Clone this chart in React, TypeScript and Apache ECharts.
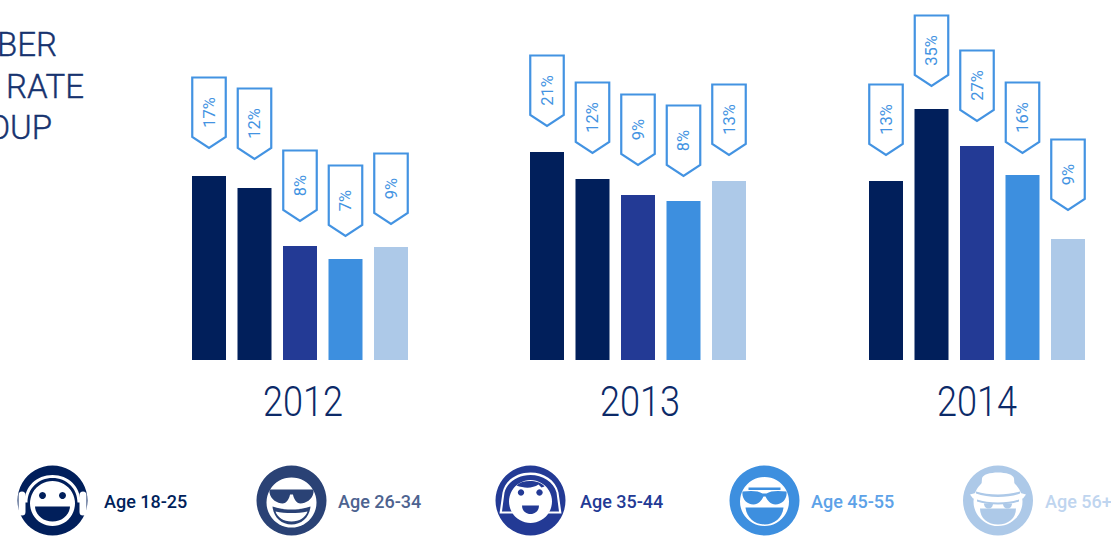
import React, { useEffect, useRef } from "react";
import * as echarts from "echarts";

const years = ["2012", "2013", "2014"];
const ageGroups = ["Age 18-25", "Age 26-34", "Age 35-44", "Age 45-55", "Age 56+"];
const barColors = ["#011f5b", "#011f5b", "#233a95", "#3d8fdf", "#adc9e8"];
const legendIconColors = ["#011f5b", "#2a4275", "#233a95", "#3d8fdf", "#adc9e8"];
const legendTextColors = ["#011f5b", "#4d6390", "#233a95", "#5da2e8", "#bfd5ef"];
const bars2012 = [184, 172, 114, 101, 113];
const bars2013 = [208, 181, 165, 159, 179];
const bars2014 = [179, 251, 214, 185, 121];
const tagTips2012 = [212, 201, 139, 124, 136];
const tagTips2013 = [234, 207, 195, 184, 205];
const tagTips2014 = [205, 274, 239, 207, 150];
const tagLabels2012 = ["17%", "12%", "8%", "7%", "9%"];
const tagLabels2013 = ["21%", "12%", "9%", "8%", "13%"];
const tagLabels2014 = ["13%", "35%", "27%", "16%", "9%"];
const titleLines = ["BER", "RATE", "OUP"];

const allBars = [bars2012, bars2013, bars2014];
const allTips = [tagTips2012, tagTips2013, tagTips2014];
const allLabels = [tagLabels2012, tagLabels2013, tagLabels2014];
const gridLefts = [186.25, 524.25, 863.25];
const TAG_COLOR = "#4393e2";
const FONT = "Roboto";

const P: Record<string, string> = {
  band1: "M-28 2 C-28 -14 -16 -25.5 0 -25.5 C16 -25.5 28 -14 28 2 L25 2 C25 -12 14 -22.5 0 -22.5 C-14 -22.5 -25 -12 -25 2 Z",
  mouth1: "M-17.5 6 L17.5 6 C17 15 9 21 0 21 C-9 21 -17 15 -17.5 6 Z",
  glasses2: "M-22 -11 L22 -11 L22 -8 C21 -1 14 3 9 3 C5 3 2 -2 1.5 -6 L-1.5 -6 C-2 -2 -5 3 -9 3 C-14 3 -21 -1 -22 -8 Z",
  mouth2: "M-19 6 C-8 10 8 10 19 6 C18 17 10 24 0 24 C-10 24 -18 17 -19 6 Z",
  mouth2b: "M-16 11 C-6 13 6 13 16 11 C14 17 8 21 0 21 C-8 21 -14 17 -16 11 Z",
  arch3: "M-31 13 L-28 -8 C-25 -21 -13 -28 0 -28 C13 -28 25 -21 28 -8 L31 13 L16 13 L16 11 L28.5 11 L26 -8 C23 -19 12 -25.5 0 -25.5 C-12 -25.5 -23 -19 -26 -8 L-28.5 11 L-16 11 L-16 13 Z",
  fringe3: "M-14 -15 C-8 -21 8 -21 14 -14 L11 -13 L8 -16 C2 -12 -6 -12 -14 -15 Z",
  mouth3: "M-8.5 5 L8.5 5 C8.5 10 5 13.5 0 13.5 C-5 13.5 -8.5 10 -8.5 5 Z",
  brow4: "M-16 -13 L16 -13 L16 -10.5 L-16 -10.5 Z",
  glasses4: "M-22 -9 C-14 -10 -6 -10 -2 -7 L2 -7 C6 -10 14 -10 22 -9 C23 -2 18 4 11 4 C6 4 3 0 1 -4 L-1 -4 C-3 0 -6 4 -11 4 C-18 4 -23 -2 -22 -9 Z",
  mouth4: "M-19 7 L19 7 C18 17 10 24 0 24 C-10 24 -18 17 -19 7 Z",
  hat5: "M-17 -9 L-16 -22 C-15 -30 15 -30 16 -22 L17 -9 L28 -6 L25 -2 L-25 -2 L-28 -6 Z",
  hatBand5: "M-22 -9 C-10 -5 10 -5 22 -9 L22 -7 C10 -2.5 -10 -2.5 -22 -7 Z",
  brim5: "M-21 -1 C-10 3 10 3 21 -1 L21 1 C10 5 -10 5 -21 1 Z",
  eyeL5: "M-14 3 L-5 3 C-5 6 -7 8 -9.5 8 C-12 8 -14 6 -14 3 Z",
  eyeR5: "M5 3 L14 3 C14 6 12 8 9.5 8 C7 8 5 6 5 3 Z",
  mouth5: "M-18 8 L18 8 C18 18 10 24 0 24 C-10 24 -18 18 -18 8 Z",
};
Object.keys(P).forEach((k) => echarts.graphic.registerShape("ic_" + k, echarts.graphic.extendPath(P[k], {})));

const ps = (k: string, fill: string) => ({ type: "ic_" + k, style: { fill } });
const dot = (x: number, y: number, r: number, fill: string) => ({ type: "circle", shape: { cx: x, cy: y, r }, style: { fill } });
const W = "#ffffff";

function iconParts(i: number, c: string): any[] {
  if (i === 0)
    return [
      ps("band1", W),
      dot(0, 3, 22.5, W),
      { type: "rect", shape: { x: -34, y: -9, width: 7, height: 24, r: 3.5 }, style: { fill: W } },
      { type: "rect", shape: { x: 27, y: -9, width: 7, height: 24, r: 3.5 }, style: { fill: W } },
      dot(-10, -5, 3.5, c),
      dot(10, -5, 3.5, c),
      ps("mouth1", c),
    ];
  if (i === 1) return [dot(0, 2, 25, W), ps("glasses2", c), ps("mouth2", c), ps("mouth2b", W)];
  if (i === 2)
    return [ps("arch3", W), dot(0, 1, 21.5, W), ps("fringe3", c), dot(-9.5, -8, 3.2, c), dot(9, -8, 3.2, c), ps("mouth3", c)];
  if (i === 3) return [dot(0, 1, 24.5, W), ps("brow4", c), ps("glasses4", c), ps("mouth4", c)];
  return [dot(0, 1, 24.5, W), ps("hat5", W), ps("hatBand5", c), ps("brim5", c), ps("eyeL5", c), ps("eyeR5", c), ps("mouth5", c)];
}

const iconCenters = [52.5, 291.5, 530.5, 764.5, 998];
const legendTextX = [104, 338, 580, 811, 1045];
const yearCenters = [303, 640, 977];

export default function App() {
  const ref = useRef<HTMLDivElement>(null);
  useEffect(() => {
    document.body.style.margin = "0";
    const chart = echarts.init(ref.current!, undefined, { renderer: "svg" });
    const series: any[] = [];
    years.forEach((_, g) => {
      series.push({
        type: "bar",
        xAxisIndex: g,
        yAxisIndex: g,
        barWidth: 34,
        silent: true,
        data: allBars[g].map((v, i) => ({ value: v, itemStyle: { color: barColors[i] } })),
      });
      series.push({
        type: "custom",
        xAxisIndex: g,
        yAxisIndex: g,
        silent: true,
        clip: false,
        encode: { x: 0, y: 1 },
        data: allTips[g].map((v, i) => [i, v]),
        renderItem: (params: any, api: any) => {
          const idx = api.value(0);
          const [cx, tip] = api.coord([idx, api.value(1)]);
          const hw = 16.75;
          const top = tip - 70.5;
          const shoulder = tip - 11;
          return {
            type: "group",
            children: [
              {
                type: "polygon",
                shape: { points: [[cx - hw, top], [cx + hw, top], [cx + hw, shoulder], [cx, tip], [cx - hw, shoulder]] },
                style: { fill: "#ffffff", stroke: TAG_COLOR, lineWidth: 2.2 },
              },
              {
                type: "text",
                x: cx,
                y: top + 35,
                rotation: Math.PI / 2,
                style: {
                  text: allLabels[g][params.dataIndex],
                  fill: TAG_COLOR,
                  font: `400 16.5px ${FONT}`,
                  align: "center",
                  verticalAlign: "middle",
                },
              },
            ],
          };
        },
      });
    });

    const graphic: any[] = [];
    const titleX = [57, 84, 52];
    const titleY = [44.5, 86.5, 127.5];
    titleLines.forEach((t, i) => {
      graphic.push({
        type: "text",
        x: titleX[i],
        y: titleY[i],
        style: { text: t, fill: "#17336f", font: `300 33px ${FONT}`, align: "right", verticalAlign: "middle", stroke: "#17336f", lineWidth: 0.4 },
      });
    });
    years.forEach((y, i) => {
      graphic.push({
        type: "text",
        x: yearCenters[i],
        y: 401,
        scaleX: 0.84,
        style: { text: y, fill: "#0c2a68", font: `300 43px ${FONT}`, align: "center", verticalAlign: "middle" },
      });
    });
    ageGroups.forEach((name, i) => {
      graphic.push({
        type: "group",
        x: iconCenters[i],
        y: 500.5,
        children: [dot(0, 0, 35, legendIconColors[i]), ...iconParts(i, legendIconColors[i])],
      });
      graphic.push({
        type: "text",
        x: legendTextX[i],
        y: 501,
        style: { text: name, fill: legendTextColors[i], font: `500 18px ${FONT}`, align: "left", verticalAlign: "middle" },
      });
    });

    chart.setOption({
      animation: false,
      grid: gridLefts.map((left) => ({ left, width: 227.5, top: 0, height: 360 })),
      xAxis: years.map((_, g) => ({
        type: "category",
        gridIndex: g,
        data: ageGroups,
        axisLine: { show: false },
        axisTick: { show: false },
        axisLabel: { show: false },
      })),
      yAxis: years.map((_, g) => ({
        type: "value",
        gridIndex: g,
        min: 0,
        max: 360,
        show: false,
      })),
      series,
      graphic,
    });
    return () => chart.dispose();
  }, []);
  return <div ref={ref} style={{ position: "absolute", left: 0, top: 0, width: 1111, height: 536 }} />;
}
